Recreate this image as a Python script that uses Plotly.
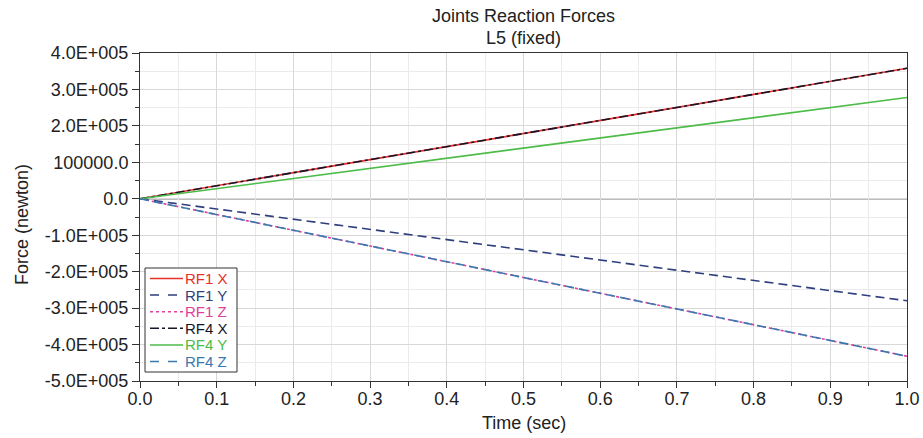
import plotly.graph_objects as go

time_s = [0.0, 0.25, 0.5, 0.75, 1.0]
rf1_x = [0, 89500, 179000, 268500, 358000]
rf1_y = [0, -70000, -140000, -210000, -280000]
rf1_z = [0, -108000, -216000, -324000, -432000]
rf4_x = [0, 89500, 179000, 268500, 358000]
rf4_y = [0, 69500, 139000, 208500, 278000]
rf4_z = [0, -108000, -216000, -324000, -432000]

y_tickvals = [400000, 300000, 200000, 100000, 0, -100000, -200000, -300000, -400000, -500000]
y_ticktext = ["4.0E+005", "3.0E+005", "2.0E+005", "100000.0", "0.0", "-1.0E+005",
              "-2.0E+005", "-3.0E+005", "-4.0E+005", "-5.0E+005"]
x_tickvals = [0.0, 0.1, 0.2, 0.3, 0.4, 0.5, 0.6, 0.7, 0.8, 0.9, 1.0]
x_ticktext = ["0.0", "0.1", "0.2", "0.3", "0.4", "0.5", "0.6", "0.7", "0.8", "0.9", "1.0"]

series_names = ["RF1 X", "RF1 Y", "RF1 Z", "RF4 X", "RF4 Y", "RF4 Z"]
series_values = [rf1_x, rf1_y, rf1_z, rf4_x, rf4_y, rf4_z]
series_colors = ["#e8302a", "#2e3f7c", "#e0409a", "#15152a", "#4cbb47", "#3a78b0"]
series_dashes = ["solid", "9px,5px", "dot", "dashdot", "solid", "9px,5px"]

title_lines = ["Joints Reaction Forces", "L5 (fixed)"]
x_title = "Time (sec)"
y_title = "Force (newton)"

fig = go.Figure()
fig.add_shape(type="line", xref="paper", x0=0, x1=1, yref="y", y0=0, y1=0,
              line=dict(color="#7a7a7a", width=1.5), layer="below")
for name, vals, color, dash in zip(series_names, series_values, series_colors, series_dashes):
    fig.add_trace(go.Scatter(
        x=time_s, y=vals, mode="lines", name=name, showlegend=False,
        line=dict(color=color, dash=dash, width=1.6),
    ))

L = 140; R = 907; T = 53; B = 381
def px(xp): return (xp - L) / (R - L)
def py(yp): return (B - yp) / (B - T)

# compact legend with coloured labels
legend_dashes = ["solid", "dash", "dot", "dashdot", "solid", "dash"]
fig.add_shape(type="rect", xref="paper", yref="paper",
              x0=px(145), x1=px(237), y0=py(372), y1=py(268),
              line=dict(color="#333333", width=1), fillcolor="white", layer="above")
for i, (name, color, dash) in enumerate(zip(series_names, series_colors, legend_dashes)):
    yy = py(278.5 + 16.6 * i)
    fig.add_shape(type="line", xref="paper", yref="paper",
                  x0=px(150), x1=px(183), y0=yy, y1=yy,
                  line=dict(color=color, dash=dash, width=1.5), layer="above")
    fig.add_annotation(xref="paper", yref="paper", x=px(183), y=yy,
                       xanchor="left", yanchor="middle", text=name, showarrow=False,
                       font=dict(size=15, color=color))

# titles
fig.add_annotation(xref="paper", yref="paper", x=0.5, y=py(16), xanchor="center",
                   yanchor="middle", text=title_lines[0], showarrow=False,
                   font=dict(size=18, color="#222222"))
fig.add_annotation(xref="paper", yref="paper", x=0.5, y=py(38), xanchor="center",
                   yanchor="middle", text=title_lines[1], showarrow=False,
                   font=dict(size=18, color="#222222"))
fig.add_annotation(xref="paper", yref="paper", x=0.5, y=py(423), xanchor="center",
                   yanchor="middle", text=x_title, showarrow=False,
                   font=dict(size=18, color="#222222"))
fig.add_annotation(xref="paper", yref="paper", x=px(22), y=py(225), xanchor="center",
                   yanchor="middle", text=y_title, showarrow=False, textangle=-90,
                   font=dict(size=18, color="#222222"))

font_family = "Liberation Sans, Arial, sans-serif"
fig.update_layout(
    width=923, height=438,
    margin=dict(l=L, r=923 - R, t=T, b=438 - B),
    paper_bgcolor="white", plot_bgcolor="white",
    font=dict(family=font_family, size=18, color="#222222"),
    showlegend=False,
    xaxis=dict(
        range=[0, 1], tickvals=x_tickvals, ticktext=x_ticktext,
        showgrid=True, gridcolor="#d8d8d8", gridwidth=1,
        ticks="outside", ticklen=6, tickcolor="#333333",
        minor=dict(dtick=0.05, showgrid=True, gridcolor="#ebebeb", ticks="outside",
                   ticklen=4, tickcolor="#333333"),
        showline=True, linecolor="#333333", linewidth=1, mirror=True,
        zeroline=False, automargin=False, ticklabelstandoff=-5,
        tickfont=dict(size=18),
    ),
    yaxis=dict(
        range=[-500000, 400000], tickvals=y_tickvals, ticktext=y_ticktext,
        showgrid=True, gridcolor="#d8d8d8", gridwidth=1,
        ticks="outside", ticklen=7, tickcolor="#333333",
        minor=dict(tickvals=[350000, 250000, 150000, 50000, -50000, -150000, -250000, -350000, -450000],
                   showgrid=True, gridcolor="#ebebeb", ticks="outside", ticklen=4, tickcolor="#333333"),
        showline=True, linecolor="#333333", linewidth=1, mirror=True,
        zeroline=False, automargin=False,
        tickfont=dict(size=18),
    ),
)

fig.write_html("out.html", config={"displayModeBar": False},
               post_script="document.body.style.margin='0';document.body.style.padding='0';")
